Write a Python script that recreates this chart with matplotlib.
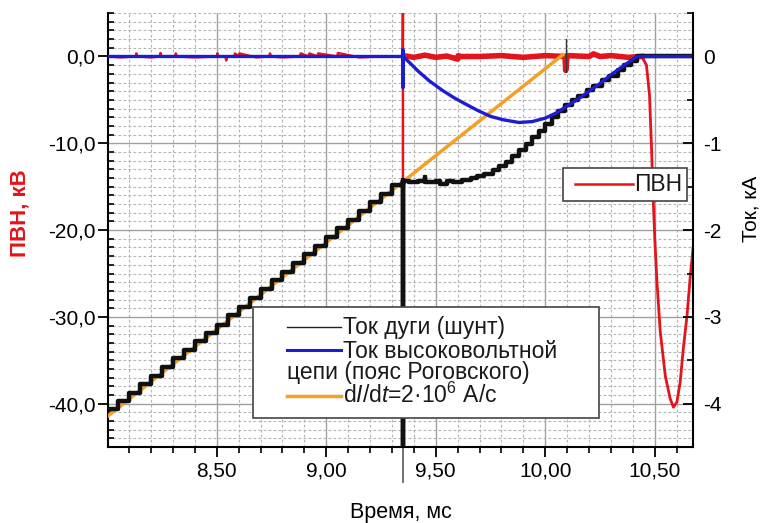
import numpy as np
import matplotlib
matplotlib.use('Agg')
import matplotlib.pyplot as plt
from matplotlib.ticker import MultipleLocator, FuncFormatter
from matplotlib.patches import Rectangle
from matplotlib.lines import Line2D

plt.rcParams['font.family'] = ['Liberation Sans', 'DejaVu Sans']
plt.rcParams['mathtext.fontset'] = 'custom'
plt.rcParams['mathtext.rm'] = 'Liberation Sans'
plt.rcParams['mathtext.it'] = 'Liberation Sans:italic'
plt.rcParams['axes.unicode_minus'] = False

# ПВН, кВ (left axis) - before breakdown, thin trace with spike at 9.35 ms
pvn_pre_t = [8.003, 8.06, 8.13, 8.133, 8.137, 8.20, 8.24, 8.243, 8.247, 8.31, 8.313, 8.317,
             8.40, 8.50, 8.503, 8.507, 8.54, 8.543, 8.547, 8.58, 8.583, 8.60, 8.603, 8.68,
             8.74, 8.743, 8.747, 8.80, 8.88, 8.883, 8.92, 8.923, 8.96, 8.963, 9.05, 9.053,
             9.15, 9.25, 9.349, 9.35, 9.35]
pvn_pre_v = [0.0, -0.1, 0.0, 0.35, 0.0, -0.1, 0.0, 0.4, 0.0, 0.0, 0.35, 0.0,
             -0.1, 0.0, 0.35, 0.0, 0.0, -0.45, 0.0, 0.0, 0.35, 0.0, 0.35, -0.1,
             0.0, 0.35, 0.0, -0.1, 0.0, 0.35, 0.0, 0.35, 0.0, 0.35, 0.0, 0.4,
             -0.1, 0.0, 0.0, 6.0, -46.0]
# after breakdown - noisy band at zero
pvn_band_t = [9.352, 9.40, 9.45, 9.50, 9.55, 9.60, 9.603, 9.61, 9.70, 9.80, 9.90, 10.00,
              10.09, 10.093, 10.10, 10.20, 10.22, 10.25, 10.30, 10.38, 10.441]
pvn_band_v = [0.1, -0.1, 0.15, -0.1, 0.05, -0.3, 0.1, 0.0, 0.0, 0.1, -0.1, 0.1,
              0.0, -1.6, 0.1, 0.0, 0.3, 0.0, 0.1, -0.1, 0.0]
# voltage swing at the end
pvn_drop_t = [10.441, 10.462, 10.476, 10.485, 10.492, 10.500, 10.510, 10.525, 10.548,
              10.570, 10.585, 10.601, 10.616, 10.630, 10.647, 10.662, 10.678]
pvn_drop_v = [0.0, -1.0, -4.5, -10.5, -16.0, -21.0, -26.0, -31.7, -36.8,
              -39.4, -40.4, -39.8, -37.5, -33.7, -29.9, -25.3, -21.3]

# Ток высоковольтной цепи (пояс Роговского), кА
hv_t = [8.003, 9.349, 9.35, 9.35, 9.351, 9.38, 9.42, 9.47, 9.53, 9.58, 9.63, 9.69, 9.75,
        9.81, 9.88, 9.94, 10.00, 10.05, 10.10, 10.15, 10.20, 10.25, 10.30, 10.35, 10.39,
        10.42, 10.678]
hv_i = [0.0, 0.0, 0.08, -0.36, 0.0, -0.07, -0.17, -0.28, -0.39, -0.47, -0.54, -0.62, -0.69,
        -0.73, -0.76, -0.75, -0.71, -0.65, -0.57, -0.49, -0.40, -0.31, -0.21, -0.12, -0.05,
        0.0, 0.0]

# Ток дуги (шунт), кА
arc_t = [8.003, 8.05, 8.10, 8.15, 8.20, 8.25, 8.30, 8.35, 8.40, 8.45, 8.50, 8.55, 8.60,
         8.65, 8.70, 8.75, 8.80, 8.85, 8.90, 8.95, 9.00, 9.05, 9.10, 9.15, 9.20, 9.25,
         9.30, 9.35, 9.35, 9.351, 9.38, 9.42, 9.45, 9.451, 9.48, 9.50, 9.52, 9.55, 9.58,
         9.62, 9.66, 9.69, 9.72, 9.76, 9.79, 9.82, 9.85, 9.88, 9.91, 9.94, 9.97, 10.00,
         10.03, 10.06, 10.09, 10.12, 10.15, 10.19, 10.22, 10.26, 10.29, 10.33, 10.36,
         10.39, 10.42, 10.678]
arc_i = [-4.06, -3.97, -3.88, -3.77, -3.68, -3.58, -3.47, -3.38, -3.28, -3.19, -3.09, -2.98,
         -2.88, -2.78, -2.68, -2.58, -2.48, -2.38, -2.28, -2.18, -2.08, -1.98, -1.88, -1.78,
         -1.68, -1.58, -1.48, -1.42, -4.7, -1.43, -1.44, -1.43, -1.39, -1.45, -1.44, -1.43,
         -1.47, -1.43, -1.44, -1.42, -1.40, -1.38, -1.35, -1.31, -1.26, -1.21, -1.15, -1.08,
         -1.01, -0.93, -0.86, -0.78, -0.70, -0.63, -0.56, -0.50, -0.45, -0.39, -0.34, -0.27,
         -0.22, -0.15, -0.10, -0.05, 0.0, 0.0]
spike_t = [10.095, 10.095]
spike_i = [0.2, -0.18]

# dI/dt = 2e6 A/s
ramp_t = [8.003, 10.08]
ramp_i = [-4.14, 0.02]

t_break = 9.35

RED = '#e3141b'
BLUE = '#1c1cd2'
ORANGE = '#f2a027'
W, H = 760, 523

fig = plt.figure(figsize=(7.6, 5.23), dpi=100)
ax = fig.add_axes([0.142, 0.145, 0.770, 0.830])
ax2 = ax.twinx()

ax.plot(pvn_pre_t, pvn_pre_v, color=RED, lw=1.8)
ax.plot(pvn_band_t, pvn_band_v, color=RED, lw=4)
ax.plot(pvn_drop_t, pvn_drop_v, color=RED, lw=2)

ax2.plot(ramp_t, ramp_i, color=ORANGE, lw=2.5)
ax2.plot(arc_t, arc_i, color='#111111', lw=3.2, drawstyle='steps-post')
ax2.plot(spike_t, spike_i, color='#333333', lw=1)
ax2.plot(hv_t, hv_i, color=BLUE, lw=2.4)

ax.plot([t_break, t_break], [-0.08, 0.0], transform=ax.get_xaxis_transform(),
        clip_on=False, color='#666666', lw=1.3)

ax.set_xlim(8.003, 10.675)
ax.set_ylim(-45, 5)
ax2.set_ylim(-4.5, 0.5)

ax.xaxis.set_major_locator(MultipleLocator(0.5))
ax.xaxis.set_minor_locator(MultipleLocator(0.1))
ax.yaxis.set_major_locator(MultipleLocator(10))
ax.yaxis.set_minor_locator(MultipleLocator(1))
ax2.yaxis.set_major_locator(MultipleLocator(1))
ax2.yaxis.set_minor_locator(MultipleLocator(0.5))

ax.xaxis.set_major_formatter(FuncFormatter(lambda v, p: f'{v:.2f}'.replace('.', ',')))
ax.yaxis.set_major_formatter(FuncFormatter(lambda v, p: f'{v:.1f}'.replace('.', ',')))
ax2.yaxis.set_major_formatter(FuncFormatter(lambda v, p: f'{v:.0f}'))

ax.grid(which='major', color='#a0a0a0', lw=1.0, ls='-')
ax.grid(which='minor', color='#b4b4b4', lw=0.8, ls=(0, (2.5, 2.0)))
ax.set_axisbelow(True)

for a in (ax, ax2):
    a.spines['top'].set_visible(False)
ax.spines['right'].set_visible(False)
ax2.spines['left'].set_visible(False)
ax.spines['left'].set_linewidth(1.5)
ax.spines['bottom'].set_linewidth(1.5)
ax2.spines['right'].set_linewidth(1.5)
ax2.spines['bottom'].set_visible(False)

ax.tick_params(axis='x', which='major', direction='out', length=7, width=1.3, labelsize=15, pad=3)
ax.tick_params(axis='x', which='minor', direction='out', length=4, width=1.2)
ax.tick_params(axis='y', which='major', direction='out', length=7, width=1.3, labelsize=15, pad=2)
ax.tick_params(axis='y', which='minor', direction='in', length=4, width=1.2)
ax2.tick_params(axis='y', which='major', direction='in', length=7, width=1.3, labelsize=15, pad=7)
ax2.tick_params(axis='y', which='minor', direction='in', length=4, width=1.2)

ax.set_xlabel('Время, мс', fontsize=15.5, labelpad=16)
ax.set_ylabel('ПВН, кВ', fontsize=16, color=RED, fontweight='bold')
ax.yaxis.set_label_coords(-0.132, 0.54)
ax2.set_ylabel('Ток, кА', fontsize=15)
ax2.yaxis.set_label_coords(1.082, 0.55)


def fx(x):
    return x / W


def fy(y):
    return 1 - y / H


def legend_box(x0, y0, x1, y1):
    fig.add_artist(Rectangle((fx(x0), fy(y1)), (x1 - x0) / W, (y1 - y0) / H,
                             transform=fig.transFigure, fc='white', ec='#444444',
                             lw=1.2, zorder=5))


def legend_line(x0, x1, y, color, lw):
    fig.add_artist(Line2D([fx(x0), fx(x1)], [fy(y), fy(y)], transform=fig.transFigure,
                          color=color, lw=lw, zorder=6))


def legend_text(x, y, s):
    fig.text(fx(x), fy(y), s, fontsize=16.5, ha='left', va='baseline', color='#1a1a1a', zorder=6)


# legend: ПВН
legend_box(563, 168, 687, 201)
legend_line(575, 633, 184, RED, 1.8)
legend_text(634, 191, 'ПВН')

# legend: currents
legend_box(253, 307, 599, 418)
legend_line(287, 341, 327, '#222222', 1.0)
legend_text(343, 334, 'Ток дуги (шунт)')
legend_line(287, 341, 350, BLUE, 2.2)
legend_text(343, 358, 'Ток высоковольтной')
legend_text(287, 379, 'цепи (пояс Роговского)')
legend_line(287, 341, 396, ORANGE, 2.5)
legend_text(343, 403, r'd$\mathit{I}$/d$\mathit{t}$=2·10$^{6}$ А/с')

fig.savefig('out.png', dpi=100)
